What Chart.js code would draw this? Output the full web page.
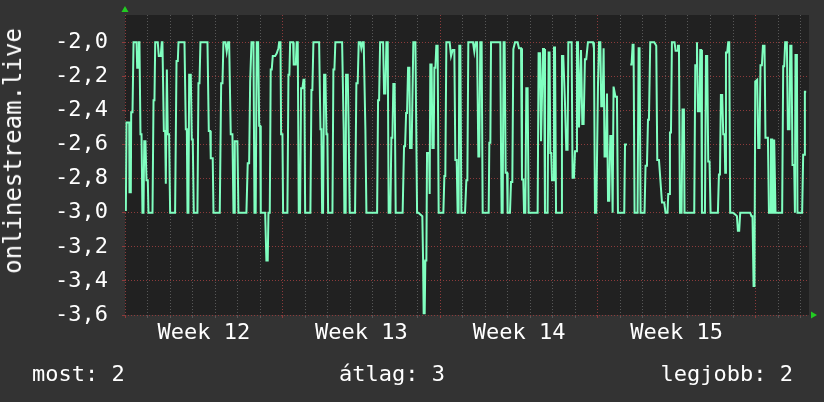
<!DOCTYPE html>
<html><head><meta charset="utf-8">
<script src="https://cdn.jsdelivr.net/npm/chart.js@4.4.1/dist/chart.umd.min.js"></script>
<style>
html,body{margin:0;padding:0;background:#333333;}
#wrap{position:relative;width:824px;height:402px;overflow:hidden;background:#333333;}
canvas{position:absolute;left:0;top:0;}
.t{position:absolute;color:#ffffff;font-family:"DejaVu Sans Mono",monospace;font-size:22px;white-space:nowrap;line-height:22px;}
#ytitle{left:13px;top:151px;transform:translate(-50%,-50%) rotate(-90deg);font-size:24px;line-height:24px;}
#leg0{left:32px;top:363px;}
#leg1{left:392px;top:363px;transform:translateX(-50%);}
#leg2{right:31px;top:363px;}
</style></head><body>
<div id="wrap">
<canvas id="c" width="824" height="402"></canvas>
<div id="ytitle" class="t"></div>
<div id="leg0" class="t"></div>
<div id="leg1" class="t"></div>
<div id="leg2" class="t"></div>
</div>
<script>
// ---- data ----
const seriesName = 'onlinestream.live';
const weekLabels = ['Week 12', 'Week 13', 'Week 14', 'Week 15'];
const legendLabels = ['most:', 'átlag:', 'legjobb:'];
const legendValues = [2, 3, 2];
const yTickValues = [-3.6, -3.5, -3.4, -3.3, -3.2, -3.1, -3.0, -2.9, -2.8, -2.7, -2.6, -2.5, -2.4, -2.3, -2.2, -2.1, -2.0, -1.9];
const yMin = -3.6, yMax = -1.84;
const xMaxHours = 729;
// time in hours since the start of week 12
const hours = [
0.9,1.6,4.5,4.8,6.2,6.6,8.0,9.1,12.3,13.0,
14.1,14.7,15.4,16.5,17.6,18.6,19.7,20.5,21.8,22.9,
24.3,25.0,29.3,30.4,31.4,32.2,34.9,36.0,38.1,39.2,
39.9,41.4,42.8,43.5,44.6,45.6,47.0,48.1,53.4,54.9,
56.3,57.0,63.4,64.8,65.9,66.6,67.6,68.4,70.1,71.2,
72.2,73.3,77.2,78.3,79.4,80.4,87.9,89.3,90.8,91.4,
93.5,94.3,101.0,102.5,103.9,104.9,107.1,108.4,109.9,111.0,
112.7,114.5,115.6,116.7,117.0,119.8,120.9,129.4,130.8,132.3,
133.4,134.0,134.8,136.9,138.0,139.3,140.4,141.9,143.0,144.0,
144.7,149.4,150.7,152.1,152.9,154.3,155.3,156.4,157.5,160.0,
161.7,163.5,164.3,165.7,166.4,167.8,168.5,173.1,174.2,175.2,
176.0,179.2,179.8,182.0,183.0,184.1,185.2,186.6,187.7,189.1,
190.2,191.2,192.0,197.6,198.7,199.7,200.8,206.9,208.3,209.3,
210.1,211.1,212.2,213.6,214.7,215.7,216.5,221.1,222.1,223.2,
224.2,231.4,233.1,233.8,235.2,235.6,237.4,238.4,239.5,245.2,
246.6,248.0,249.1,250.9,251.9,253.3,254.4,256.2,257.3,268.7,
269.7,270.8,271.9,275.1,276.1,277.5,278.6,280.0,281.0,282.8,
283.9,285.0,286.0,287.4,288.5,295.9,297.4,298.5,299.6,300.6,
301.7,303.1,303.8,305.5,307.3,309.5,311.3,312.7,314.8,316.9,
317.7,318.3,319.4,320.1,321.2,321.9,324.1,324.7,325.4,326.8,
327.6,329.0,329.7,330.8,331.8,333.2,334.3,339.3,340.4,341.4,
342.5,346.0,347.5,349.2,351.0,352.1,353.5,354.5,355.6,356.3,
357.4,358.5,362.4,363.8,364.9,365.9,370.9,372.3,373.7,375.2,
376.6,377.6,378.7,380.1,381.2,387.6,388.3,389.4,390.1,400.0,
400.8,401.4,402.5,403.5,404.6,405.7,407.2,407.8,410.3,411.4,
412.8,413.9,415.7,418.4,419.9,422.1,423.1,424.5,425.3,426.7,
427.7,429.1,430.2,439.8,440.8,442.3,443.4,444.4,445.5,446.6,
447.6,450.4,451.5,452.5,453.3,454.3,455.1,456.2,457.2,458.3,
459.4,464.7,465.7,467.1,468.9,470.3,471.7,472.5,476.0,477.0,
478.5,479.6,480.7,481.7,482.8,483.9,484.9,486.0,487.4,488.8,
490.2,491.6,493.4,498.8,499.8,500.9,502.3,504.1,505.2,506.6,
507.6,509.0,510.1,511.1,512.6,513.7,514.8,516.1,517.2,518.6,
519.7,520.7,522.8,524.3,525.4,532.1,532.9,535.0,536.6,538.5,
539.9,541.0,542.0,543.1,546.3,547.4,548.4,549.5,553.7,554.8,
556.3,557.4,558.4,559.8,564.1,566.2,567.3,569.1,572.3,574.7,
576.1,578.2,579.0,580.1,580.8,581.9,582.9,585.7,586.8,588.6,
589.3,590.4,591.5,593.2,594.2,595.7,596.3,606.7,607.8,608.8,
609.6,610.6,612.3,613.1,614.1,614.9,618.1,619.2,620.5,621.6,
623.0,624.1,631.9,633.0,634.1,635.1,636.5,637.6,639.0,639.7,
640.5,641.8,642.9,644.0,645.0,647.9,650.4,652.2,653.2,654.6,
655.7,666.3,667.7,668.8,669.9,670.9,671.7,673.8,674.9,676.2,
677.3,678.8,679.9,681.6,682.6,685.2,686.3,687.6,688.4,689.8,
690.5,691.2,691.9,692.6,693.3,700.4,701.5,702.6,703.6,705.4,
706.5,708.2,709.0,710.3,711.4,713.2,714.0,714.6,716.1,716.7,
721.7,722.8,723.9,724.6,726.0
];
const values = [
-2.99,-2.47,-2.47,-2.88,-2.88,-2.41,-2.41,-2.00,-2.00,-2.15,
-2.15,-2.00,-2.00,-2.54,-2.54,-3.00,-3.00,-2.58,-2.58,-2.81,
-2.81,-3.00,-3.00,-2.34,-2.34,-2.00,-2.00,-2.08,-2.08,-2.00,
-2.00,-2.52,-2.52,-2.83,-2.16,-2.54,-2.54,-3.00,-3.00,-2.11,
-2.11,-2.00,-2.00,-2.51,-2.51,-3.00,-3.00,-2.19,-2.19,-2.57,
-2.57,-3.00,-3.00,-2.24,-2.24,-2.00,-2.00,-2.52,-2.52,-2.68,
-2.68,-3.00,-3.00,-2.24,-2.24,-2.00,-2.00,-2.055,-2.00,-2.00,
-2.54,-2.54,-3.00,-3.00,-2.58,-2.58,-3.00,-3.00,-2.71,-2.71,
-2.23,-2.23,-2.00,-2.00,-3.00,-3.00,-2.00,-2.00,-2.49,-2.49,
-3.00,-3.00,-3.28,-3.28,-3.00,-3.00,-2.16,-2.16,-2.08,-2.08,
-2.065,-2.035,-2.00,-2.00,-2.54,-2.54,-3.00,-3.00,-2.19,-2.19,
-2.00,-2.00,-2.13,-2.13,-2.00,-2.00,-3.00,-3.00,-2.27,-2.27,
-2.22,-2.22,-3.00,-3.00,-2.28,-2.28,-2.00,-2.00,-2.51,-2.51,
-3.00,-3.00,-2.19,-2.19,-2.54,-2.54,-3.00,-3.00,-2.16,-2.16,
-2.00,-2.00,-2.52,-3.00,-3.00,-2.19,-2.19,-2.52,-3.00,-3.00,
-2.24,-2.24,-2.00,-2.00,-2.035,-2.00,-2.00,-2.51,-3.00,-3.00,
-2.34,-2.34,-2.00,-2.00,-2.30,-2.30,-2.00,-2.00,-3.00,-3.00,
-2.56,-2.56,-2.245,-2.245,-3.00,-3.00,-2.61,-2.61,-2.415,-2.415,
-2.15,-2.15,-2.62,-2.62,-2.00,-2.00,-3.00,-3.00,-3.01,-3.02,
-3.28,-3.59,-3.59,-3.28,-3.28,-2.65,-2.65,-2.89,-2.13,-2.13,
-2.62,-2.62,-2.15,-2.15,-2.02,-2.02,-3.00,-3.00,-2.785,-2.785,
-2.00,-2.00,-2.08,-2.045,-2.045,-2.69,-2.69,-3.00,-3.00,-2.02,
-2.02,-3.00,-3.00,-2.81,-2.81,-2.00,-2.00,-2.055,-2.00,-2.00,
-2.67,-2.67,-2.00,-2.00,-3.00,-3.00,-2.59,-2.59,-2.00,-2.00,
-2.66,-3.00,-3.00,-2.00,-2.00,-2.765,-2.765,-3.00,-3.00,-2.82,
-2.82,-2.04,-2.00,-2.00,-2.035,-2.035,-2.805,-2.805,-3.00,-3.00,
-2.27,-2.27,-3.00,-3.00,-2.065,-2.065,-2.58,-2.58,-2.04,-2.04,
-3.00,-3.00,-2.06,-2.06,-2.65,-2.65,-2.81,-2.81,-2.03,-2.03,
-3.00,-3.00,-2.08,-2.08,-2.35,-2.63,-2.63,-2.00,-2.00,-2.795,
-2.795,-2.64,-2.64,-2.00,-2.00,-2.50,-2.50,-2.045,-2.48,-2.48,
-2.10,-2.10,-2.00,-2.00,-2.035,-3.00,-3.00,-2.25,-2.00,-2.00,
-2.375,-2.375,-2.035,-2.67,-2.67,-2.30,-2.93,-2.93,-2.55,-2.55,
-3.00,-2.26,-2.32,-2.32,-3.00,-3.00,-2.60,-2.60,null,-2.13,
-2.13,-2.015,-2.015,-3.00,-3.00,-2.035,-2.035,-3.00,-3.00,-2.725,
-2.725,-2.455,-2.455,-2.00,-2.00,-2.02,-2.69,-2.69,-2.94,-2.94,
-3.00,-3.00,-2.89,-2.89,-2.53,-2.53,-2.00,-2.00,-2.05,-2.05,
-2.02,-2.02,-3.00,-3.00,-2.395,-2.395,-3.00,-3.00,-2.135,-2.135,
-2.00,-2.405,-2.405,-2.045,-2.045,-3.00,-3.00,-2.08,-2.08,-2.70,
-2.70,-3.00,-3.00,-2.775,-2.775,-2.31,-2.31,-2.54,-2.54,-2.765,
-2.06,-2.06,-2.00,-2.00,-3.00,-3.00,-3.01,-3.02,-3.105,-3.105,
-3.00,-3.00,-3.02,-3.02,-3.43,-3.43,-2.23,-2.22,-2.62,-2.62,
-2.135,-2.135,-2.02,-2.02,-2.56,-2.56,-3.00,-3.00,-2.57,-2.57,
-3.00,-3.00,-2.57,-2.57,-3.00,-3.00,-2.14,-2.14,-2.00,-2.00,
-2.51,-2.51,-2.02,-2.02,-2.72,-2.72,-3.00,-2.075,-2.075,-3.00,
-3.00,-2.66,-2.66,-2.29,-2.29
];

// ---- derived ----
const HOURS_PER_DAY = 24, HOURS_PER_WEEK = 168;
const weekMid = weekLabels.map((_, i) => HOURS_PER_WEEK * i + HOURS_PER_WEEK / 2);
const xTickValues = [];
for (let h = 0; h <= xMaxHours; h += HOURS_PER_DAY) xTickValues.push(h);
weekMid.forEach(v => xTickValues.push(v));
xTickValues.sort((a, b) => a - b);

const points = hours.map((h, i) => ({ x: h, y: values[i] }));

document.getElementById('ytitle').textContent = seriesName;
legendLabels.forEach((l, i) => { document.getElementById('leg' + i).textContent = l + ' ' + legendValues[i]; });

const MAJOR = '#8c3b3b', MINOR = '#575757';
const isMajorY = v => Math.round(v * 10) % 2 === 0;
const fmt = v => v.toFixed(1).replace('.', ',');

const plotPlugin = {
  id: 'rrdLook',
  beforeDraw(chart) {
    const { ctx, chartArea: a } = chart;
    ctx.save();
    ctx.fillStyle = '#212121';
    ctx.fillRect(a.left, a.top, a.right - a.left, a.bottom - a.top);
    ctx.restore();
  },
  afterDraw(chart) {
    const { ctx, chartArea: a } = chart;
    ctx.save();
    ctx.fillStyle = '#22cc22';
    ctx.beginPath();
    ctx.moveTo(a.left - 3.5, a.top - 3); ctx.lineTo(a.left + 3.5, a.top - 3); ctx.lineTo(a.left, a.top - 9); ctx.closePath(); ctx.fill();
    ctx.beginPath();
    ctx.moveTo(a.right + 2, a.bottom - 3.5); ctx.lineTo(a.right + 2, a.bottom + 3.5); ctx.lineTo(a.right + 8, a.bottom); ctx.closePath(); ctx.fill();
    ctx.restore();
  }
};

new Chart(document.getElementById('c'), {
  type: 'line',
  data: { datasets: [{ label: seriesName, data: points, borderColor: '#80ffc0', borderWidth: 2, pointRadius: 0, tension: 0, fill: false, spanGaps: false }] },
  options: {
    responsive: false, animation: false, devicePixelRatio: 1,
    layout: { padding: { left: 0, right: 15, top: 15, bottom: 0 } },
    plugins: { legend: { display: false }, tooltip: { enabled: false }, title: { display: false } },
    scales: {
      x: {
        type: 'linear', min: 0, max: xMaxHours,
        afterBuildTicks: s => { s.ticks = xTickValues.map(v => ({ value: v })); },
        afterFit: s => { s.height = 87; s.paddingLeft = 0; s.paddingRight = 0; },
        border: { display: false, dash: [1, 2] },
        grid: {
          color: c => { const v = c.tick.value; return v % HOURS_PER_WEEK === 0 ? MAJOR : (v % HOURS_PER_DAY === 0 ? MINOR : 'rgba(0,0,0,0)'); },
          tickColor: c => { const v = c.tick.value; return v % HOURS_PER_WEEK === 0 ? MAJOR : (v % HOURS_PER_DAY === 0 ? MINOR : 'rgba(0,0,0,0)'); },
          tickLength: 3, lineWidth: 1, drawTicks: true
        },
        ticks: {
          autoSkip: false, maxRotation: 0, minRotation: 0, color: '#ffffff', padding: 2,
          font: { family: 'DejaVu Sans Mono', size: 22 },
          callback: v => { const i = weekMid.indexOf(v); return i >= 0 ? weekLabels[i] : ''; }
        }
      },
      y: {
        type: 'linear', min: yMin, max: yMax,
        afterBuildTicks: s => { s.ticks = yTickValues.map(v => ({ value: v })); },
        afterFit: s => { s.width = 125; s.paddingTop = 0; s.paddingBottom = 0; },
        border: { display: false, dash: [1, 2] },
        grid: {
          color: c => isMajorY(c.tick.value) ? MAJOR : MINOR,
          tickColor: c => isMajorY(c.tick.value) ? MAJOR : MINOR,
          tickLength: 3, lineWidth: 1
        },
        ticks: {
          color: '#ffffff', padding: 14,
          font: { family: 'DejaVu Sans Mono', size: 22 },
          callback: v => isMajorY(v) ? fmt(v) : ''
        }
      }
    }
  },
  plugins: [plotPlugin]
});
</script>
</body></html>
